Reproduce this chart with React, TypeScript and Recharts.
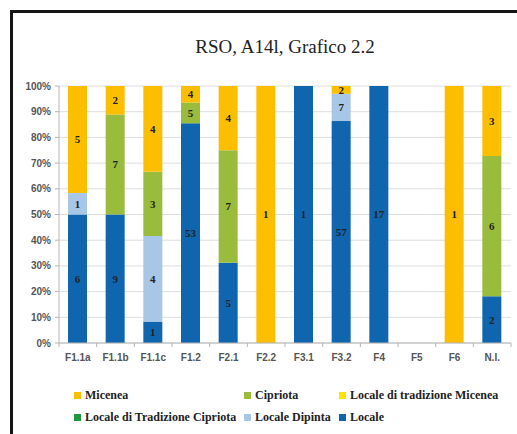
import { BarChart, Bar, XAxis, YAxis, CartesianGrid, Legend, LabelList } from 'recharts';

const categories = ['F1.1a', 'F1.1b', 'F1.1c', 'F1.2', 'F2.1', 'F2.2', 'F3.1', 'F3.2', 'F4', 'F5', 'F6', 'N.I.'];
const micenea = [5, 2, 4, 4, 4, 1, 0, 2, 0, 0, 1, 3];
const cipriota = [0, 7, 3, 5, 7, 0, 0, 0, 0, 0, 0, 6];
const locTradMicenea = [0, 0, 0, 0, 0, 0, 0, 0, 0, 0, 0, 0];
const locTradCipriota = [0, 0, 0, 0, 0, 0, 0, 0, 0, 0, 0, 0];
const localeDipinta = [1, 0, 4, 0, 0, 0, 0, 7, 0, 0, 0, 0];
const locale = [6, 9, 1, 53, 5, 0, 1, 57, 17, 0, 0, 2];
const yTicks = [0, 0.1, 0.2, 0.3, 0.4, 0.5, 0.6, 0.7, 0.8, 0.9, 1];

// stacking order, bottom to top
const series = [
  { key: 'locale', name: 'Locale', color: '#0F66AE', values: locale },
  { key: 'localeDipinta', name: 'Locale Dipinta', color: '#A8C6E5', values: localeDipinta },
  { key: 'locTradCipriota', name: 'Locale di Tradizione Cipriota', color: '#1D9A3C', values: locTradCipriota },
  { key: 'locTradMicenea', name: 'Locale di tradizione Micenea', color: '#FFE200', values: locTradMicenea },
  { key: 'cipriota', name: 'Cipriota', color: '#99BC3D', values: cipriota },
  { key: 'micenea', name: 'Micenea', color: '#FCBF00', values: micenea },
];

const data = categories.map((cat, i) => {
  const row: Record<string, string | number> = { cat };
  series.forEach((s) => {
    row[s.key] = s.values[i];
  });
  return row;
});

const serif = '"Liberation Serif", "Times New Roman", serif';
const sans = '"Liberation Sans", Arial, sans-serif';

function XTick(props: any) {
  const { x, y, payload, index, visibleTicksCount } = props;
  const off = payload.offset || 0;
  return (
    <g>
      <line x1={x - off} x2={x - off} y1={y} y2={y + 4} stroke="#b5b5b5" />
      {index === visibleTicksCount - 1 && (
        <line x1={x + off} x2={x + off} y1={y} y2={y + 4} stroke="#b5b5b5" />
      )}
      <text x={x} y={y + 18} textAnchor="middle" fontFamily={sans} fontSize={10} fontWeight="bold" fill="#555">
        {payload.value}
      </text>
    </g>
  );
}

const legendRows = [
  ['micenea', 'cipriota', 'locTradMicenea'],
  ['locTradCipriota', 'localeDipinta', 'locale'],
];
const legendCols = [170, 95, 170];

function LegendContent() {
  return (
    <div style={{ fontFamily: serif, fontSize: 12, fontWeight: 'bold', color: '#222' }}>
      {legendRows.map((row, r) => (
        <div key={r} style={{ display: 'flex', height: 22, alignItems: 'center' }}>
          {row.map((k, j) => {
            const s = series.find((d) => d.key === k)!;
            return (
              <div key={k} style={{ width: legendCols[j], display: 'flex', alignItems: 'center', whiteSpace: 'nowrap' }}>
                <span style={{ width: 7, height: 7, background: s.color, marginRight: 4, display: 'inline-block' }} />
                {s.name}
              </div>
            );
          })}
        </div>
      ))}
    </div>
  );
}

export default function App() {
  return (
    <div style={{ position: 'absolute', left: 0, top: 0, width: 517, height: 434, background: '#fff', overflow: 'hidden' }}>
      <div
        style={{
          position: 'absolute',
          left: 10,
          top: 10,
          width: 600,
          height: 600,
          borderLeft: '3px solid #151515',
          borderTop: '3px solid #151515',
        }}
      />
      <div
        style={{
          position: 'absolute',
          left: 59,
          width: 452,
          top: 36,
          textAlign: 'center',
          fontFamily: serif,
          fontSize: 19,
          color: '#222',
        }}
      >
        RSO, A14l, Grafico 2.2
      </div>
      <BarChart
        width={517}
        height={434}
        data={data}
        stackOffset="expand"
        margin={{ top: 86, right: 6, bottom: 71, left: 9 }}
        style={{ position: 'absolute', left: 0, top: 0 }}
      >
        <CartesianGrid vertical={false} stroke="#dedede" />
        <XAxis
          dataKey="cat"
          height={20}
          tickSize={0}
          tickMargin={0}
          interval={0}
          stroke="#b5b5b5"
          tick={(p: any) => <XTick {...p} />}
        />
        <YAxis
          width={50}
          domain={[0, 1]}
          ticks={yTicks}
          tickFormatter={(v: number) => `${Math.round(v * 100)}%`}
          tickSize={4}
          tickMargin={4}
          stroke="#b5b5b5"
          tick={{ fontFamily: sans, fontSize: 10, fontWeight: 'bold', fill: '#555' }}
        />
        {series.map((s) => (
          <Bar key={s.key} dataKey={s.key} name={s.name} stackId="a" fill={s.color} barSize={19} isAnimationActive={false}>
            <LabelList
              dataKey={s.key}
              position="center"
              formatter={(v: any) => (v ? v : '')}
              fill="#222"
              fontSize={11}
              fontWeight="bold"
              fontFamily={serif}
            />
          </Bar>
        ))}
        <Legend
          layout="horizontal"
          verticalAlign="middle"
          align="center"
          wrapperStyle={{ position: 'absolute', left: 74, top: 384, width: 440, height: 44 }}
          content={() => <LegendContent />}
        />
      </BarChart>
    </div>
  );
}
